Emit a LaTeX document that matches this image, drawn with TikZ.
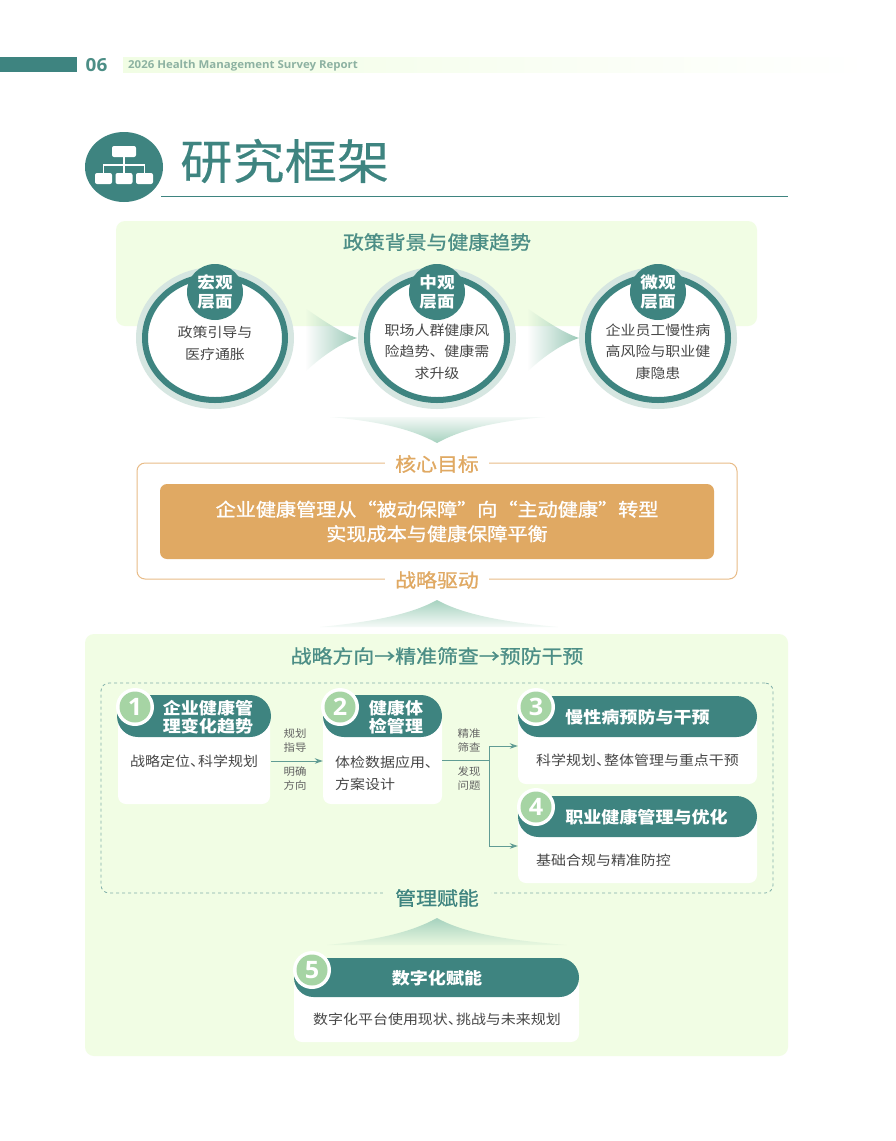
\documentclass[tikz,border=0pt]{standalone}
\usepackage{fontspec}
\usepackage{xcolor}
\usepackage{tikz}
\usetikzlibrary{arrows.meta,shapes.geometric,fadings}
\setmainfont{Noto Sans CJK SC}[FakeStretch=1.1]
\newfontfamily\medfont{Noto Sans CJK SC}[FakeStretch=1.1,FakeBold=1]
\newfontfamily\titlefont{Noto Sans CJK SC}[FakeStretch=1.1,FakeBold=0.25]
\newfontfamily\latinfont{Open Sans}[FakeStretch=1.05]
\definecolor{tealmain}{HTML}{3E8480}
\definecolor{tealtext}{HTML}{4C8E86}
\definecolor{tealhalo}{HTML}{D6E6E1}
\definecolor{tealfade}{HTML}{A6D2BF}
\definecolor{panelgreen}{HTML}{F1FDE4}
\definecolor{orangemain}{HTML}{E0A963}
\definecolor{orangeline}{HTML}{E8BC88}
\definecolor{badgegreen}{HTML}{A6D4A4}
\definecolor{bodygrey}{HTML}{474747}
\tikzfading[name=arrowfade,left color=transparent!100,right color=transparent!0]
\tikzfading[name=chevdown,top color=transparent!88,bottom color=transparent!0]
\tikzfading[name=chevup,top color=transparent!0,bottom color=transparent!90]
\begin{document}
\begin{tikzpicture}[
    x=1pt,y=-1pt,
    panel/.style={rectangle,fill=panelgreen,rounded corners=9pt,inner sep=0pt},
    halo/.style={ellipse,fill=tealhalo,minimum width=158,minimum height=142,inner sep=0pt},
    ringnode/.style={ellipse,draw=tealmain,line width=6pt,fill=white,minimum width=140,minimum height=124,inner sep=0pt},
    levelbadge/.style={circle,fill=tealmain,minimum size=56,inner sep=0pt,text=white,align=center,font=\fontsize{16}{18.5}\selectfont\bfseries},
    ringtext/.style={align=center,text=bodygrey,inner sep=0pt,font=\fontsize{13.6}{21.5}\selectfont},
    paneltitle/.style={text=tealtext,inner sep=0pt,font=\medfont\fontsize{19}{22}\selectfont},
    goaltitle/.style={fill=white,text=orangemain,inner xsep=10pt,inner ysep=1pt,font=\medfont\fontsize{19}{22}\selectfont},
    cardbody/.style={rectangle,fill=white,rounded corners=8pt,inner sep=0pt},
    cardhead/.style={rectangle,fill=tealmain,inner sep=0pt,text=white,align=center,font=\fontsize{16.4}{18}\selectfont\bfseries},
    numwhite/.style={ellipse,fill=white,minimum width=38,minimum height=38,inner sep=0pt},
    numbadge/.style={ellipse,fill=badgegreen,minimum width=31,minimum height=31,inner sep=0pt,text=white,font=\latinfont\fontsize{24}{24}\selectfont\bfseries},
    bodytext/.style={text=bodygrey,inner sep=0pt,align=left,font=\fontsize{13.6}{22}\selectfont},
    flowtext/.style={text=bodygrey!85,inner sep=0pt,align=center,font=\fontsize{10.4}{14}\selectfont},
    flowarrow/.style={-{Stealth[length=8pt,width=5.5pt]},line width=1pt,tealtext!88},
    flowline/.style={line width=1pt,tealtext!88},
    iconbox/.style={rectangle,fill=white,rounded corners=2pt,inner sep=0pt}
]
\useasboundingbox (0,0) rectangle (895,1141);
\fill[white] (0,0) rectangle (895,1141);

% page header
\node[rectangle,fill=tealmain,minimum width=77,minimum height=15,inner sep=0pt] (tabbar) at (38.5,64.5) {};
\node[text=tealtext,inner sep=0pt,font=\latinfont\fontsize{18}{18}\selectfont\bfseries] (pageno) at (96.5,65) {06};
\node[rectangle,left color=panelgreen,right color=white,minimum width=747,minimum height=15,inner sep=0pt] (headstrip) at (496.5,64.5) {};
\node[anchor=west,text=tealfade!85!black,inner sep=0pt,font=\latinfont\fontsize{10.9}{12}\selectfont\bfseries] (headtext) at (128,65.5) {2026 Health Management Survey Report};

% title
\node[ellipse,fill=tealmain,minimum width=78,minimum height=70,inner sep=0pt] (iconback) at (124,167) {};
\node[iconbox,minimum width=24,minimum height=11] (icontop) at (124,151.5) {};
\node[iconbox,minimum width=17,minimum height=11] (iconleft) at (103.5,178.5) {};
\node[iconbox,minimum width=17,minimum height=11] (iconmid) at (124,178.5) {};
\node[iconbox,minimum width=17,minimum height=11] (iconright) at (144.5,178.5) {};
\coordinate (iconsplit) at (124,165);
\draw[white,line width=1.5pt] (icontop.south) -- (iconmid.north);
\draw[white,line width=1.5pt] (iconleft.north) |- (iconsplit) -| (iconright.north);
\node[anchor=west,text=tealmain,inner sep=0pt,font=\titlefont\fontsize{47.5}{50}\selectfont] (pagetitle) at (180,161) {研究框架};
\coordinate (ruleleft) at (161,196.5);
\coordinate (ruleright) at (788,196.5);
\draw[tealmain,line width=1pt] (ruleleft) -- (ruleright);

% policy panel
\node[panel,minimum width=641,minimum height=105] (policypanel) at (436.5,273.5) {};
\node[paneltitle] (policytitle) at (437,242) {政策背景与健康趋势};

\fill[tealfade!88!tealmain,path fading=arrowfade] (305,308) .. controls (325,322) and (342,333) .. (357,338) .. controls (342,343) and (323,355) .. (305,372) -- cycle;
\fill[tealfade!88!tealmain,path fading=arrowfade] (527,308) .. controls (547,322) and (564,333) .. (579,338) .. controls (564,343) and (545,355) .. (527,372) -- cycle;

\node[halo] (macrohalo) at (215,338) {};
\node[ringnode] (macroring) at (215,338) {};
\node[levelbadge] (macrobadge) at (215,292) {宏观\\层面};
\node[ringtext] (macrotext) at (215,343.5) {政策引导与\\医疗通胀};

\node[halo] (mesohalo) at (437,338) {};
\node[ringnode] (mesoring) at (437,338) {};
\node[levelbadge] (mesobadge) at (437,292) {中观\\层面};
\node[ringtext] (mesotext) at (437,351.5) {职场人群健康风\\险趋势、健康需\\求升级};

\node[halo] (microhalo) at (658,338) {};
\node[ringnode] (microring) at (658,338) {};
\node[levelbadge] (microbadge) at (658,292) {微观\\层面};
\node[ringtext] (microtext) at (658,351.5) {企业员工慢性病\\高风险与职业健\\康隐患};

\fill[tealfade,path fading=chevdown] (330,417) .. controls (375,421) and (410,428) .. (437,443) .. controls (464,428) and (500,421) .. (545,417) -- cycle;

% goal frame
\node[rectangle,draw=orangeline,line width=1pt,rounded corners=8pt,minimum width=600,minimum height=116,inner sep=0pt] (goalframe) at (437,521) {};
\node[goaltitle] (goaltitle) at (437,464) {核心目标};
\node[goaltitle] (drivetitle) at (437,580) {战略驱动};
\node[rectangle,fill=orangemain,rounded corners=7pt,minimum width=554,minimum height=75,inner sep=0pt,text=white,align=center,font=\medfont\fontsize{18.3}{24.5}\selectfont] (goalbox) at (437,521.5) {企业健康管理从“被动保障”向“主动健康”转型\\实现成本与健康保障平衡};

\fill[tealfade,path fading=chevup] (320,627) .. controls (370,622) and (410,615) .. (437,600) .. controls (464,615) and (505,622) .. (558,627) -- cycle;

% strategy panel
\node[panel,minimum width=703,minimum height=422] (strategypanel) at (436.5,845) {};
\node[paneltitle] (strategytitle) at (437,656) {战略方向→精准筛查→预防干预};
\node[rectangle,draw=tealtext!70,dashed,line width=0.8pt,rounded corners=8pt,minimum width=672,minimum height=210,inner sep=0pt] (dashframe) at (437,788) {};
\node[paneltitle,fill=panelgreen,text=tealmain,inner xsep=12pt,inner ysep=1pt] (enabletitle) at (437,898) {管理赋能};

% card 1
\node[cardbody,minimum width=152,minimum height=90] (cardonebody) at (194,759) {};
\node[cardhead,rounded corners=21pt,minimum width=154,minimum height=42] (cardonehead) at (194,716) {};
\node[cardhead,anchor=center] (cardonetitle) at (208,717) {企业健康管\\理变化趋势};
\node[numwhite] (cardonering) at (135,707) {};
\node[numbadge] (cardonenum) at (135,707) {1};
\node[bodytext,anchor=west] (cardonetext) at (130,761) {战略定位、\hspace{-0.5em}科学规划};

% card 2
\node[cardbody,minimum width=119,minimum height=90] (cardtwobody) at (382.5,759) {};
\node[cardhead,rounded corners=21pt,minimum width=119,minimum height=42] (cardtwohead) at (382.5,716) {};
\node[cardhead,anchor=center] (cardtwotitle) at (396,717) {健康体\\检管理};
\node[numwhite] (cardtworing) at (340,707) {};
\node[numbadge] (cardtwonum) at (340,707) {2};
\node[bodytext,anchor=north west] (cardtwotext) at (335,755.5) {体检数据应用、\\方案设计};

% card 3
\node[cardbody,minimum width=239,minimum height=70] (cardthreebody) at (637.5,749) {};
\node[cardhead,rounded corners=20.5pt,minimum width=239,minimum height=41] (cardthreehead) at (637.5,716.5) {};
\node[cardhead,anchor=center] (cardthreetitle) at (637.5,717) {慢性病预防与干预};
\node[numwhite] (cardthreering) at (536,707) {};
\node[numbadge] (cardthreenum) at (536,707) {3};
\node[bodytext,anchor=west] (cardthreetext) at (536,760) {科学规划、\hspace{-0.5em}整体管理与重点干预};

% card 4
\node[cardbody,minimum width=239,minimum height=70] (cardfourbody) at (637.5,848) {};
\node[cardhead,rounded corners=20.5pt,minimum width=239,minimum height=41] (cardfourhead) at (637.5,816.5) {};
\node[cardhead,anchor=center] (cardfourtitle) at (646.5,817) {职业健康管理与优化};
\node[numwhite] (cardfourring) at (536,807) {};
\node[numbadge] (cardfournum) at (536,807) {4};
\node[bodytext,anchor=west] (cardfourtext) at (536,860) {基础合规与精准防控};

% flow between cards
\draw[flowarrow] (cardonehead.east |- cardonetext) -- (cardtwobody.west |- cardonetext);
\node[flowtext] (flowaup) at (295,741) {规划\\指导};
\node[flowtext] (flowadown) at (295,779) {明确\\方向};
\coordinate (flowsplit) at (489,760);
\coordinate (flowtop) at (489,746);
\coordinate (flowbot) at (489,846);
\draw[flowline] (cardtwohead.east |- flowsplit) -- (flowsplit);
\draw[flowarrow] (flowsplit) -- (flowtop) -- (cardthreebody.west |- flowtop);
\draw[flowarrow] (flowsplit) -- (flowbot) -- (cardfourbody.west |- flowbot);
\node[flowtext] (flowbup) at (469,741) {精准\\筛查};
\node[flowtext] (flowbdown) at (469,779) {发现\\问题};

\fill[tealfade,path fading=chevup] (327,945) .. controls (375,940) and (410,933) .. (437,918) .. controls (464,933) and (505,940) .. (567,945) -- cycle;

% card 5
\node[cardbody,minimum width=285,minimum height=64] (cardfivebody) at (436.5,1010) {};
\node[cardhead,rounded corners=19.5pt,minimum width=285,minimum height=39] (cardfivehead) at (436.5,977.5) {};
\node[cardhead,anchor=center] (cardfivetitle) at (437,978) {数字化赋能};
\node[numwhite] (cardfivering) at (312,970) {};
\node[numbadge] (cardfivenum) at (312,970) {5};
\node[bodytext,align=center] (cardfivetext) at (437,1019) {数字化平台使用现状、\hspace{-0.5em}挑战与未来规划};
\end{tikzpicture}
\end{document}
